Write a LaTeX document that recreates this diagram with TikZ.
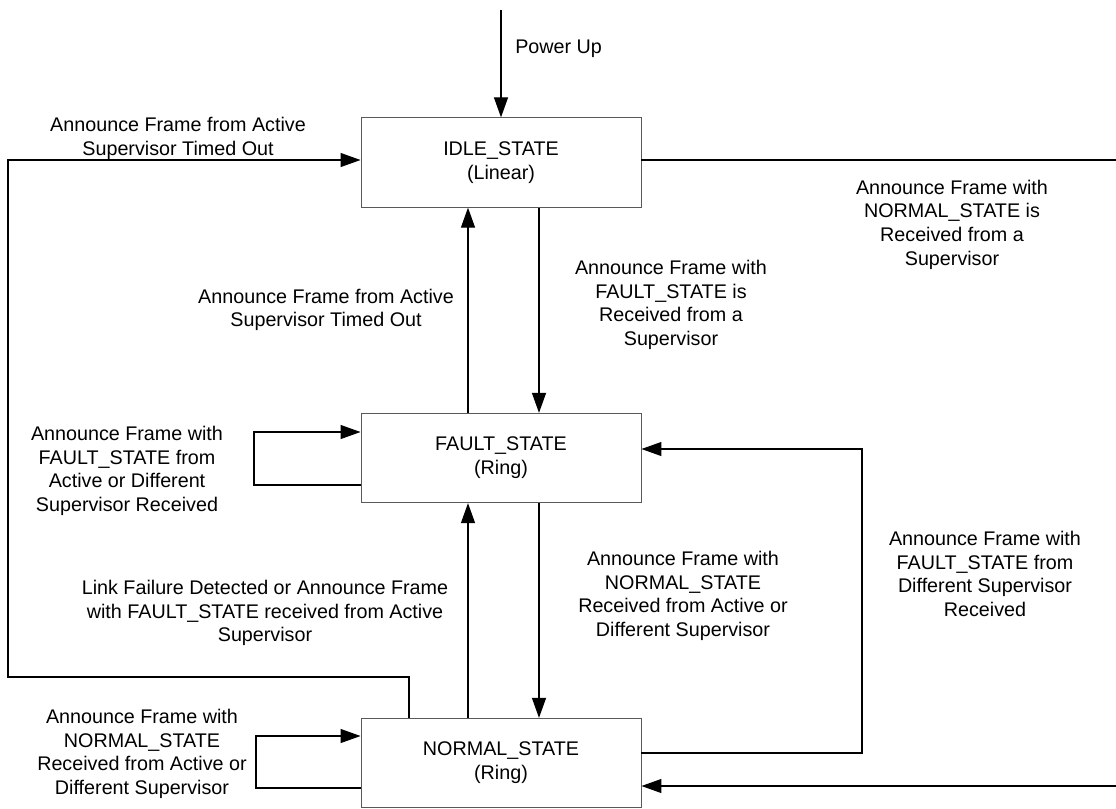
\documentclass[tikz,border=0pt]{standalone}
\usepackage{fontspec}
\setmainfont{Liberation Sans}
\usetikzlibrary{arrows.meta}
\begin{document}
\begin{tikzpicture}[x=0.75pt,y=-0.75pt,
  statebox/.style={draw=black!65,line width=0.7pt,minimum width=210pt,minimum height=67pt,inner sep=0pt,align=center,font=\fontsize{14.8}{17.8}\selectfont},
  conn/.style={draw=black,line width=0.9pt},
  arr/.style={conn,-{Triangle[length=15pt,width=10.5pt]}},
  lbl/.style={align=center,inner sep=0pt,font=\fontsize{14.8}{17.8}\selectfont}]
\useasboundingbox (0,0) rectangle (1116,808);
% states
\node[statebox] (idle) at (501,162.5) {\raisebox{-1.5pt}{\begin{tabular}{@{}c@{}}IDLE\_STATE\\(Linear)\end{tabular}}};
\node[statebox] (fault) at (501,458) {\raisebox{-1.5pt}{\begin{tabular}{@{}c@{}}FAULT\_STATE\\(Ring)\end{tabular}}};
\node[statebox] (normal) at (501,763) {\raisebox{-1.5pt}{\begin{tabular}{@{}c@{}}NORMAL\_STATE\\(Ring)\end{tabular}}};
% free ends
\coordinate (pu) at (501,10);
\coordinate (rtopend) at (1116,160);
\coordinate (rbotend) at (1116,786);
% power up
\draw[arr] (pu) -- (idle.north);
\node[lbl,anchor=west] (lpu) at (515,49) {Power Up};
% idle <-> fault
\draw[arr] (idle.south -| 539,0) -- (fault.north -| 539,0);
\draw[arr] (fault.north -| 468,0) -- (idle.south -| 468,0);
% fault <-> normal
\draw[arr] (fault.south -| 539,0) -- (normal.north -| 539,0);
\draw[arr] (normal.north -| 468,0) -- (fault.south -| 468,0);
% normal -> idle (outer left loop)
\draw[arr] (normal.north -| 409,0) -- (409,677) -- (8,677) -- (8,160) -- (idle.west |- 0,160);
% fault self loop
\draw[arr] (fault.west |- 0,485) -- (254,485) -- (254,432) -- (fault.west |- 0,432);
% normal self loop
\draw[arr] (normal.west |- 0,788) -- (256,788) -- (256,736) -- (normal.west |- 0,736);
% normal -> fault right loop
\draw[arr] (normal.east |- 0,753) -- (862,753) -- (862,449) -- (fault.east |- 0,449);
% idle -> normal (off-page on right)
\draw[conn] (idle.east |- 0,160) -- (rtopend);
\draw[arr] (rbotend) -- (normal.east |- 0,786);
% labels
\node[lbl] (l1) at (178,138.5) {Announce Frame from Active\\Supervisor Timed Out};
\node[lbl] (l2) at (952,224.7) {Announce Frame with\\NORMAL\_STATE is\\Received from a\\Supervisor};
\node[lbl] (l3) at (671,305) {Announce Frame with\\FAULT\_STATE is\\Received from a\\Supervisor};
\node[lbl] (l4) at (326,310) {Announce Frame from Active\\Supervisor Timed Out};
\node[lbl] (l5) at (127,471) {Announce Frame with\\FAULT\_STATE from\\Active or Different\\Supervisor Received};
\node[lbl] (l6) at (265,613) {Link Failure Detected or Announce Frame\\with FAULT\_STATE received from Active\\Supervisor};
\node[lbl] (l7) at (683,596) {Announce Frame with\\NORMAL\_STATE\\Received from Active or\\Different Supervisor};
\node[lbl] (l8) at (985,574) {Announce Frame with\\FAULT\_STATE from\\Different Supervisor\\Received};
\node[lbl] (l9) at (142,754) {Announce Frame with\\NORMAL\_STATE\\Received from Active or\\Different Supervisor};
\end{tikzpicture}
\end{document}
